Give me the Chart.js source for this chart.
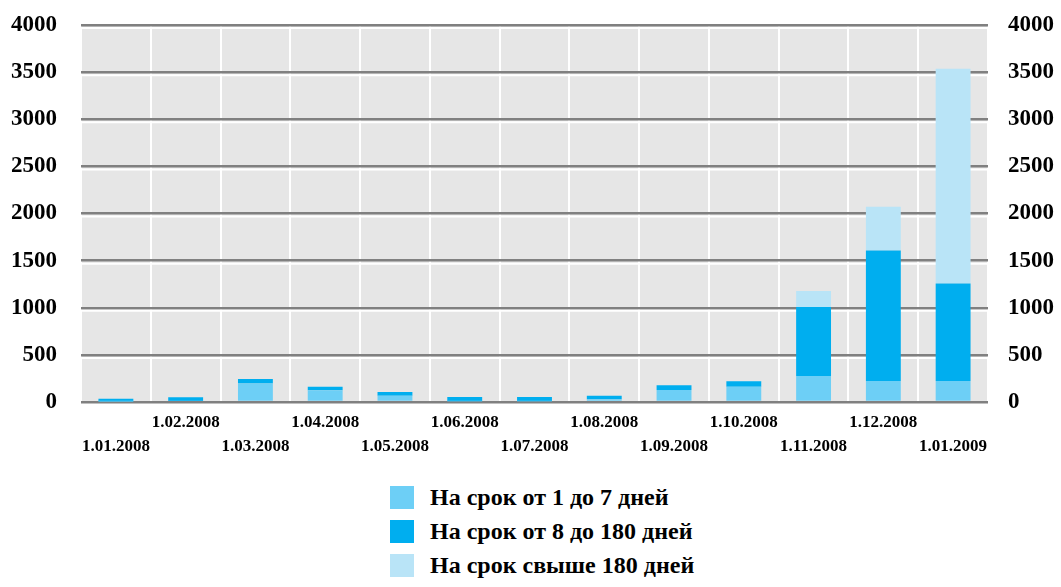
<!DOCTYPE html>
<html>
<head>
  <meta charset="utf-8" />
  <title>Депозиты по срокам</title>
  <script src="https://cdn.jsdelivr.net/npm/chart.js"></script>
  <style>
    body { margin: 0; background: #fff; }
    #wrap { position: relative; width: 1061px; height: 470px; }
    #legend { position: absolute; left: 390px; top: 480px; font-family: "Liberation Serif", serif; font-weight: bold; font-size: 24px; color: #000; }
    .row { display: flex; align-items: center; height: 34px; }
    .box { width: 24px; height: 23px; margin-right: 16px; }
  </style>
</head>
<body>
  <div id="wrap"><canvas id="depChart"></canvas></div>
  <div id="legend"></div>
  <script>
    // даты на первое число месяца
    const labels = ['1.01.2008', '1.02.2008', '1.03.2008', '1.04.2008', '1.05.2008', '1.06.2008', '1.07.2008',
                    '1.08.2008', '1.09.2008', '1.10.2008', '1.11.2008', '1.12.2008', '1.01.2009'];
    const short = [5, 10, 195, 125, 67, 8, 8, 30, 127, 163, 276, 223, 223];
    const middle = [30, 40, 50, 38, 39, 45, 45, 35, 50, 57, 733, 1384, 1033];
    const long = [0, 0, 0, 0, 0, 0, 0, 0, 0, 0, 170, 464, 2281];
    const names = ['На срок от 1 до 7 дней', 'На срок от 8 до 180 дней', 'На срок свыше 180 дней'];
    const colors = ['#6dcff6', '#00aeef', '#b9e4f7'];

    const font = { family: '"Liberation Serif", serif', weight: 'bold' };

    // серый фон области графика
    const plotBg = {
      id: 'plotBg',
      beforeDraw(chart) {
        const a = chart.chartArea, ctx = chart.ctx;
        ctx.save();
        ctx.fillStyle = '#e6e6e6';
        ctx.fillRect(a.left, a.top, a.right - a.left, a.bottom - a.top);
        ctx.restore();
      },
      // белая полоска под каждой серой линией
      beforeDatasetsDraw(chart) {
        const a = chart.chartArea, ctx = chart.ctx, y = chart.scales.y;
        ctx.save();
        ctx.strokeStyle = '#ffffff';
        ctx.lineWidth = 2;
        y.ticks.forEach((t, i) => {
          const py = y.getPixelForTick(i) + 3;
          if (py > a.bottom) return;
          ctx.beginPath();
          ctx.moveTo(a.left, py);
          ctx.lineTo(a.right, py);
          ctx.stroke();
        });
        ctx.restore();
      }
    };

    const yTicks = { stepSize: 500, color: '#000', font: { ...font, size: 23 }, callback: v => String(v) };
    // фиксированная ширина оси, без лишнего отступа сверху
    const fitY = w => s => { s.width = w; s.paddingTop = 0; s.paddingBottom = 0; };

    new Chart(document.getElementById('depChart'), {
      type: 'bar',
      data: {
        labels,
        datasets: [short, middle, long].map((d, i) => ({
          label: names[i],
          data: d,
          backgroundColor: colors[i],
          borderWidth: 0,
          barPercentage: 0.5,
          categoryPercentage: 1
        }))
      },
      options: {
        responsive: true,
        maintainAspectRatio: false,
        animation: false,
        layout: { padding: { top: 25, left: 0, right: 0, bottom: 0 } },
        plugins: { legend: { display: false }, tooltip: { enabled: false } },
        scales: {
          x: {
            stacked: true,
            border: { display: false },
            grid: { color: '#ffffff', lineWidth: 2, offset: true, drawTicks: false },
            ticks: {
              color: '#000',
              font: { ...font, size: 17, lineHeight: 1.45 },
              padding: 8,
              maxRotation: 0,
              autoSkip: false,
              callback: (v, i) => i % 2 === 0 ? ['', labels[i]] : [labels[i], '']
            },
            afterFit: s => { s.height = 68; }
          },
          y: {
            stacked: true,
            min: 0,
            max: 4000,
            border: { display: false },
            grid: { color: '#808080', lineWidth: 2.5, drawTicks: false },
            ticks: { ...yTicks, padding: 24 },
            afterFit: fitY(81)
          },
          y2: {
            position: 'right',
            min: 0,
            max: 4000,
            border: { display: false },
            grid: { display: false },
            ticks: { ...yTicks, padding: 12 },
            afterFit: fitY(73)
          }
        }
      },
      plugins: [plotBg]
    });

    // легенда
    document.getElementById('legend').innerHTML = names.map((n, i) =>
      '<div class="row"><span class="box" style="background:' + colors[i] + '"></span>' + n + '</div>').join('');
  </script>
</body>
</html>
